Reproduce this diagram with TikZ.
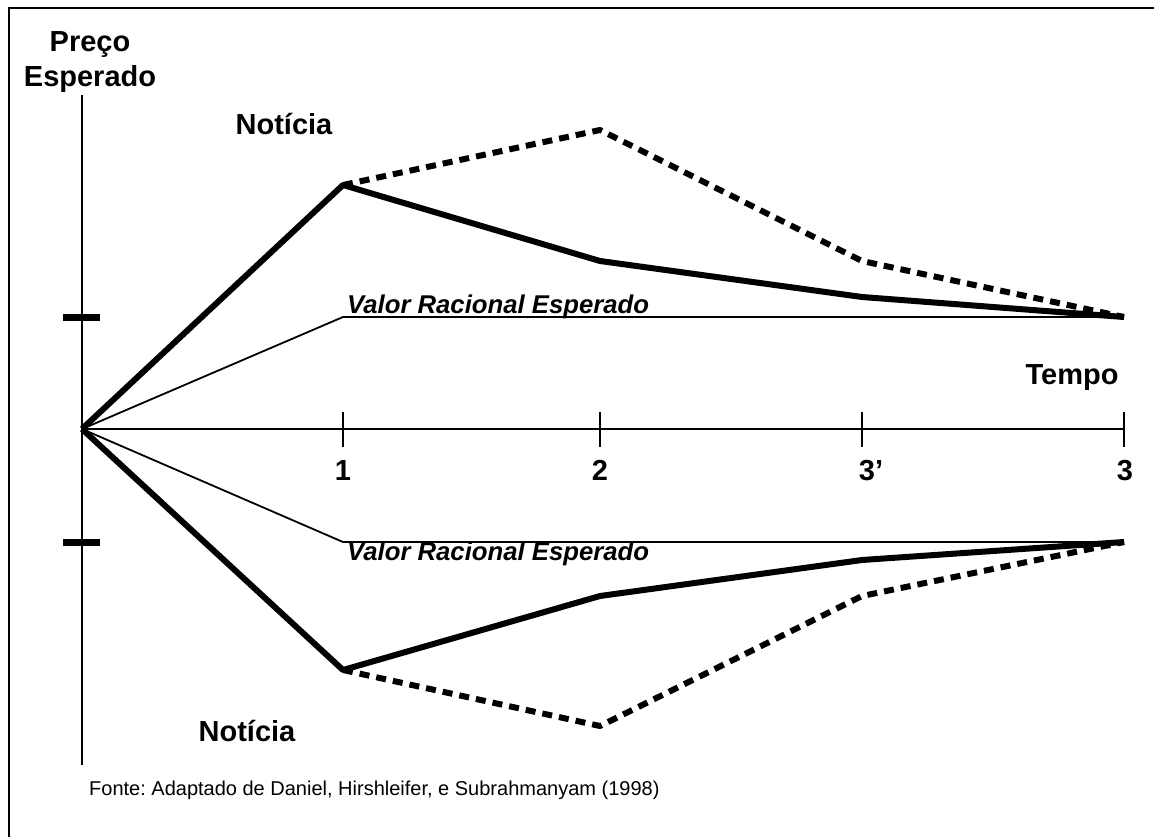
\documentclass[tikz,border=0pt]{standalone}
\usepackage{fontspec}
\setmainfont{Liberation Sans}
\frenchspacing

\begin{document}
\begin{tikzpicture}[x=1pt, y=-1pt,
  lbl/.style={font=\fontsize{29}{35}\selectfont\bfseries, inner sep=0pt},
  vre/.style={font=\fontsize{25.7}{30}\selectfont\bfseries\itshape, inner sep=0pt},
  src/.style={font=\fontsize{20}{24}\selectfont, inner sep=0pt},
  axisline/.style={line width=2pt},
  rational/.style={line width=1.8pt, line join=round},
  price/.style={line width=6pt, line join=round},
  overreact/.style={line width=6pt, line join=round, dash pattern=on 10pt off 7pt},
  ymark/.style={line width=7pt}]
\useasboundingbox (0,0) rectangle (1154,837);

% Frame
\coordinate (fbl) at (9,837);
\coordinate (ftl) at (9,8);
\coordinate (ftr) at (1154,8);
\draw[line width=2.5pt] (fbl) -- (ftl) -- (ftr);

% Axes
\coordinate (o) at (82,429);
\coordinate (ytop) at (82,95);
\coordinate (ybot) at (82,765);
\coordinate (xend) at (1124,429);
\draw[axisline] (ytop) -- (ybot);
\draw[axisline] (o) -- (xend);

% Time ticks
\coordinate (t1) at (343,429);
\coordinate (t2) at (600,429);
\coordinate (t3p) at (862,429);
\coordinate (t3) at (1124,429);
\foreach \t in {t1,t2,t3p,t3}
  \draw[axisline] ([yshift=17pt]\t) -- ([yshift=-18pt]\t);

\node[lbl, anchor=base] (n1) at (343,480) {1};
\node[lbl, anchor=base] (n2) at (600,480) {2};
\node[lbl, anchor=base] (n3p) at (871,480) {3'};
\node[lbl, anchor=base] (n3) at (1125,480) {3};

% Marks on price axis
\coordinate (mu1) at (63,317);
\coordinate (mu2) at (100,317);
\coordinate (ml1) at (63,542);
\coordinate (ml2) at (100,542);
\draw[ymark] (mu1) -- (mu2);
\draw[ymark] (ml1) -- (ml2);

% Good news (top)
\coordinate (r1) at (343,317);
\coordinate (r3) at (1124,317);
\coordinate (u1) at (343,185);
\coordinate (u2) at (600,261);
\coordinate (u3p) at (862,297);
\coordinate (d2) at (600,130);
\coordinate (d3p) at (862,261);
\draw[rational] (o) -- (r1) -- (r3);
\draw[price] (o) -- (u1) -- (u2) -- (u3p) -- (r3);
\draw[overreact] (u1) -- (d2) -- (d3p) -- (r3);

% Bad news (bottom)
\coordinate (s1) at (343,542);
\coordinate (s3) at (1124,542);
\coordinate (l1) at (343,670);
\coordinate (l2) at (600,596);
\coordinate (l3p) at (862,560);
\coordinate (e2) at (600,726);
\coordinate (e3p) at (862,596);
\draw[rational] (o) -- (s1) -- (s3);
\draw[price] (o) -- (l1) -- (l2) -- (l3p) -- (s3);
\draw[overreact] (l1) -- (e2) -- (e3p) -- (s3);

% Labels
\node[lbl, align=center] (ylabel) at (90,62) {Preço\\Esperado};
\node[lbl] (xlabel) at (1072,378) {Tempo};
\node[lbl] (news_up) at (284,124) {Notícia};
\node[lbl] (news_down) at (247,731) {Notícia};
\node[vre, anchor=base west] (vre_up) at (347,313) {Valor Racional Esperado};
\node[vre, anchor=base west] (vre_down) at (347,560) {Valor Racional Esperado};

% Source
\node[src, anchor=west] (fonte) at (89,790) {Fonte: Adaptado de Daniel, Hirshleifer, e Subrahmanyam (1998)};
\end{tikzpicture}
\end{document}
